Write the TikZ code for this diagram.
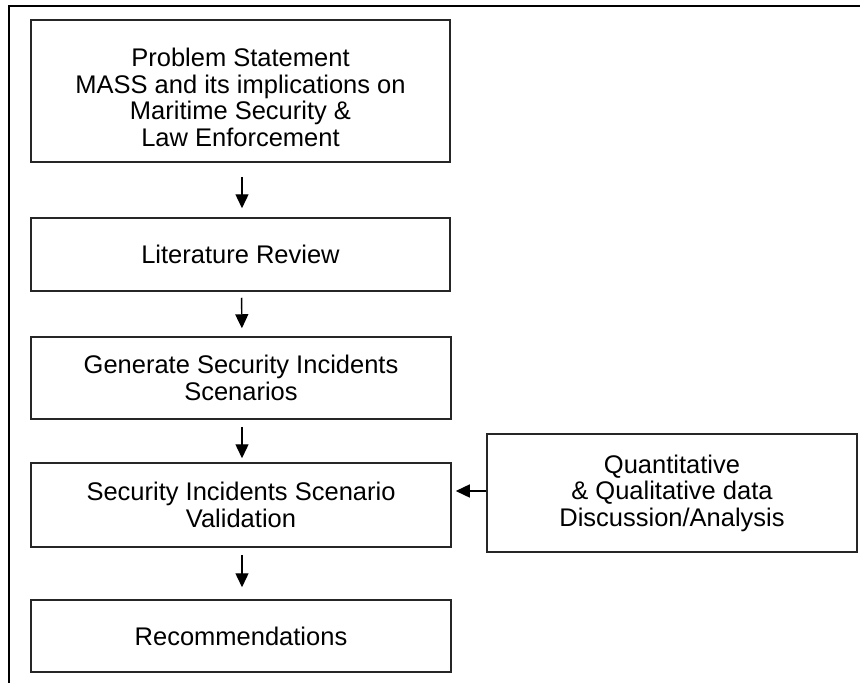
\documentclass[tikz,border=0pt]{standalone}
\usepackage{fontspec}
\setmainfont{Liberation Sans}
\usetikzlibrary{arrows.meta,calc}
\tikzset{
  box/.style={draw=black!85, line width=1.5pt, rectangle, align=center, inner sep=0pt,
    font=\fontsize{25.5}{26.5}\selectfont},
  arr/.style={line width=1.4pt, -{Triangle[length=14pt,width=13pt]}},
  frame/.style={line width=2pt, black}
}
\begin{document}
\begin{tikzpicture}[x=1pt,y=-1pt]
\useasboundingbox (0,0) rectangle (860,683);
\draw[frame] (9,683) -- (9,6) -- (860,6);
\node[box, minimum width=419pt, minimum height=142pt] (b1) at (240.5,91)
  {\parbox{410pt}{\centering\vspace*{13pt}Problem Statement\\MASS and its implications on\\Maritime Security \&\\Law Enforcement}};
\node[box, minimum width=419pt, minimum height=73pt] (b2) at (240.5,254.5) {Literature Review};
\node[box, minimum width=420pt, minimum height=82pt] (b3) at (241,378)
  {Generate Security Incidents\\Scenarios};
\node[box, minimum width=420pt, minimum height=84pt] (b4) at (241,505)
  {Security Incidents Scenario\\Validation};
\node[box, minimum width=420pt, minimum height=72pt] (b5) at (241,636) {Recommendations};
\node[box, minimum width=370pt, minimum height=118pt] (q) at (672,493)
  {Quantitative\\\& Qualitative data\\Discussion/Analysis};
\draw[arr, shorten <=14pt, shorten >=9pt] ([xshift=1.5pt]b1.south) -- ([xshift=1.5pt]b2.north);
\draw[arr, shorten <=6pt, shorten >=8pt] ([xshift=1pt]b2.south) -- ([xshift=1pt]b3.north);
\draw[arr, shorten <=7pt, shorten >=4pt] ([xshift=1pt]b3.south) -- ([xshift=1pt]b4.north);
\draw[arr, shorten <=7pt, shorten >=12pt] ([xshift=1pt]b4.south) -- ([xshift=1pt]b5.north);
\draw[arr, shorten >=4pt] ([yshift=2pt]q.west) -- ([yshift=2pt]q.west -| b4.east);
\end{tikzpicture}
\end{document}
